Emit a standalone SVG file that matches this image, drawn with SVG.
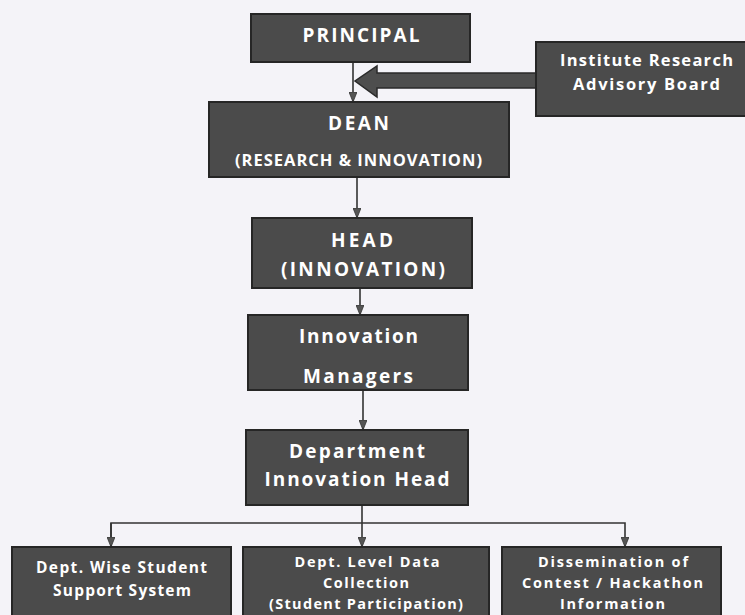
<svg xmlns="http://www.w3.org/2000/svg" width="745" height="615" viewBox="0 0 745 615">
<defs>
<style>
.box{fill:#4b4b4b;stroke:#262626;stroke-width:2}
.t{fill:#ffffff;font-family:"Open Sans","Liberation Sans",sans-serif;font-weight:bold;text-anchor:middle}
.big{font-size:19px}
.sm{font-size:16.5px}
.xs{font-size:15.5px}
.xxs{font-size:14.5px}
.ln{fill:none;stroke:#333333;stroke-width:1.6}
</style>
<marker id="ah" markerWidth="10" markerHeight="8" refX="9" refY="4" orient="auto" markerUnits="userSpaceOnUse">
<path d="M0,0 L10,4 L0,8 Z" fill="#555555" stroke="#333333" stroke-width="0.8"/>
</marker>
</defs>
<rect x="0" y="0" width="745" height="615" fill="#f4f3f8"/>

<g id="connectors">
<line class="ln" x1="353" y1="62" x2="353" y2="101" marker-end="url(#ah)"/>
<line class="ln" x1="357" y1="177" x2="357" y2="217" marker-end="url(#ah)"/>
<line class="ln" x1="360" y1="288" x2="360" y2="314" marker-end="url(#ah)"/>
<line class="ln" x1="363" y1="390" x2="363" y2="429" marker-end="url(#ah)"/>
<line class="ln" x1="362" y1="505" x2="362" y2="546" marker-end="url(#ah)"/>
<polyline class="ln" points="111,546 111,523 625,523 625,546" marker-end="url(#ah)"/>
<line class="ln" x1="111" y1="523" x2="111" y2="546" marker-end="url(#ah)"/>
<polygon points="536,73 377,73 377,66 355,81 377,97 377,88 536,88" fill="#4e4e4e" stroke="#2a2a2a" stroke-width="1.5"/>
</g>

<g id="principal">
<rect class="box" x="251" y="14" width="219" height="48"/>
<text class="t big" x="361" y="42" textLength="117" lengthAdjust="spacing">PRINCIPAL</text>
</g>

<g id="advisory-board">
<rect class="box" x="536" y="42" width="215" height="74"/>
<text class="t sm" x="646.5" y="66" textLength="173" lengthAdjust="spacing">Institute Research</text>
<text class="t sm" x="646.5" y="90" textLength="147" lengthAdjust="spacing">Advisory Board</text>
</g>

<g id="dean">
<rect class="box" x="209" y="102" width="300" height="75"/>
<text class="t big" x="358.5" y="130" textLength="61" lengthAdjust="spacing">DEAN</text>
<text class="t sm" x="358.5" y="166" textLength="247" lengthAdjust="spacing">(RESEARCH &amp; INNOVATION)</text>
</g>

<g id="head">
<rect class="box" x="252" y="218" width="220" height="70"/>
<text class="t big" x="362" y="247" textLength="62" lengthAdjust="spacing">HEAD</text>
<text class="t big" x="363" y="276" textLength="164" lengthAdjust="spacing">(INNOVATION)</text>
</g>

<g id="innovation-managers">
<rect class="box" x="248" y="315" width="220" height="75"/>
<text class="t big" x="358.5" y="343" textLength="119" lengthAdjust="spacing">Innovation</text>
<text class="t big" x="358" y="383" textLength="110" lengthAdjust="spacing">Managers</text>
</g>

<g id="dept-innovation-head">
<rect class="box" x="246" y="430" width="222" height="75"/>
<text class="t big" x="357" y="458" textLength="136" lengthAdjust="spacing">Department</text>
<text class="t big" x="357" y="486" textLength="185" lengthAdjust="spacing">Innovation Head</text>
</g>

<g id="student-support">
<rect class="box" x="12" y="547" width="219" height="80"/>
<text class="t xs" x="121.5" y="573" textLength="171" lengthAdjust="spacing">Dept. Wise Student</text>
<text class="t xs" x="122" y="596" textLength="138" lengthAdjust="spacing">Support System</text>
</g>

<g id="data-collection">
<rect class="box" x="243" y="547" width="246" height="80"/>
<text class="t xxs" x="367" y="567" textLength="145" lengthAdjust="spacing">Dept. Level Data</text>
<text class="t xxs" x="366" y="588" textLength="86" lengthAdjust="spacing">Collection</text>
<text class="t xxs" x="366" y="609" textLength="194" lengthAdjust="spacing" font-weight="normal">(Student Participation)</text>
</g>

<g id="dissemination">
<rect class="box" x="502" y="547" width="219" height="80"/>
<text class="t xxs" x="613" y="567" textLength="150" lengthAdjust="spacing">Dissemination of</text>
<text class="t xxs" x="612.5" y="588" textLength="181" lengthAdjust="spacing">Contest / Hackathon</text>
<text class="t xxs" x="612.5" y="609" textLength="105" lengthAdjust="spacing">Information</text>
</g>
</svg>
